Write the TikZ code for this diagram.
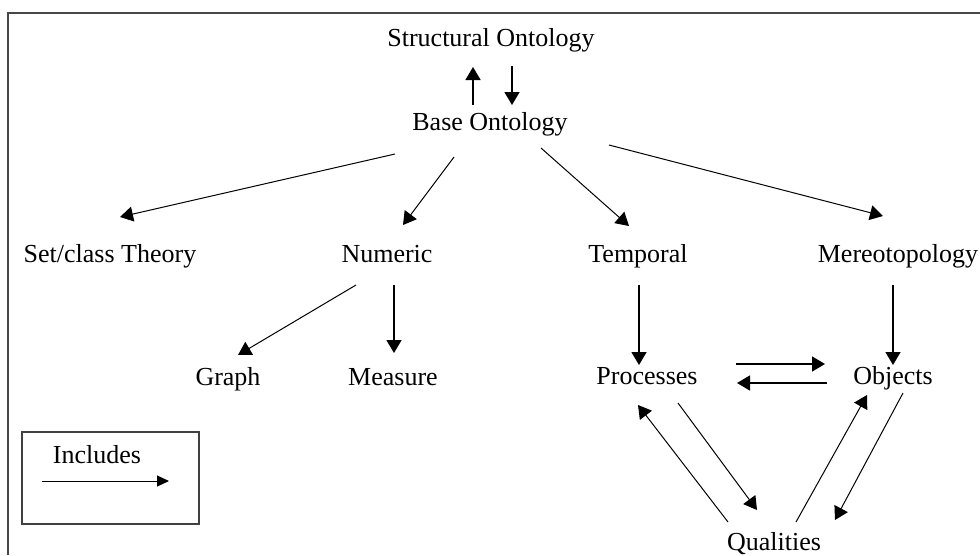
\documentclass[tikz,border=0pt]{standalone}
\usepackage{fontspec}
\setmainfont{Liberation Serif}
\usetikzlibrary{arrows.meta}

\begin{document}
\begin{tikzpicture}[x=1pt,y=-1pt,
  term/.style={anchor=base,inner sep=0pt,font=\fontsize{26}{30}\selectfont},
  inc/.style={line width=1pt,-{Triangle[length=13pt,width=15pt]}},
  incstraight/.style={inc,line width=1.5pt},
  frame/.style={line width=2pt,draw=black!72},
  keybox/.style={draw=black!75,line width=1.3pt}]

\useasboundingbox (0,0) rectangle (980,555);

% outer frame: only top and left edges
\draw[frame] (8,555) -- (8,13) -- (980,13);

% ontology modules
\node[term] (struct) at (491,46)  {Structural Ontology};
\node[term] (base)   at (490,130) {Base Ontology};
\node[term] (set)    at (110,262) {Set/class Theory};
\node[term] (num)    at (387,262) {Numeric};
\node[term] (temp)   at (638,262) {Temporal};
\node[term] (mereo)  at (898,262) {Mereotopology};
\node[term] (graph)  at (228,385) {Graph};
\node[term] (meas)   at (393,385) {Measure};
\node[term] (proc)   at (647,384) {Processes};
\node[term] (obj)    at (893,384) {Objects};
\node[term] (qual)   at (774,550) {Qualities};

% structural <-> base
\draw[incstraight] ([shift={(-17,-25)}]base.base) -- ([shift={(-18,21)}]struct.base);
\draw[incstraight] ([shift={(21,20)}]struct.base) -- ([shift={(22,-25)}]base.base);

% base includes
\draw[inc] ([shift={(-95,24)}]base.base) -- ([shift={(10,-45)}]set.base);
\draw[inc] ([shift={(-36,27)}]base.base) -- ([shift={(16,-37)}]num.base);
\draw[inc] ([shift={(51,18)}]base.base)  -- ([shift={(-9,-36)}]temp.base);
\draw[inc] ([shift={(119,15)}]base.base) -- ([shift={(-15,-46)}]mereo.base);

% numeric includes
\draw[inc] ([shift={(-31,23)}]num.base) -- ([shift={(10,-30)}]graph.base);
\draw[incstraight] ([shift={(7,23)}]num.base)   -- ([shift={(1,-32)}]meas.base);

% temporal / mereotopology
\draw[incstraight] ([shift={(1,23)}]temp.base)   -- ([shift={(-8,-19)}]proc.base);
\draw[incstraight] ([shift={(-5,23)}]mereo.base) -- ([shift={(0,-19)}]obj.base);

% processes <-> objects
\draw[incstraight] ([shift={(89,-20)}]proc.base) -- ([shift={(-68,-20)}]obj.base);
\draw[incstraight] ([shift={(-66,-1)}]obj.base)  -- ([shift={(90,-1)}]proc.base);

% qualities
\draw[inc] ([shift={(-46,-28)}]qual.base) -- ([shift={(-9,21)}]proc.base);
\draw[inc] ([shift={(31,19)}]proc.base)   -- ([shift={(-17,-40)}]qual.base);
\draw[inc] ([shift={(22,-28)}]qual.base)  -- ([shift={(-26,11)}]obj.base);
\draw[inc] ([shift={(10,9)}]obj.base)     -- ([shift={(61,-30)}]qual.base);

% legend
\node[keybox,minimum width=177pt,minimum height=92pt,inner sep=0pt] (key) at (110.5,478) {};
\node[term] (keytext) at (97,463) {Includes};
\coordinate (keyA) at (42,481);
\coordinate (keyB) at (169,481);
\draw[inc,-{Triangle[length=12pt,width=11pt]}] (keyA) -- (keyB);

\end{tikzpicture}
\end{document}
